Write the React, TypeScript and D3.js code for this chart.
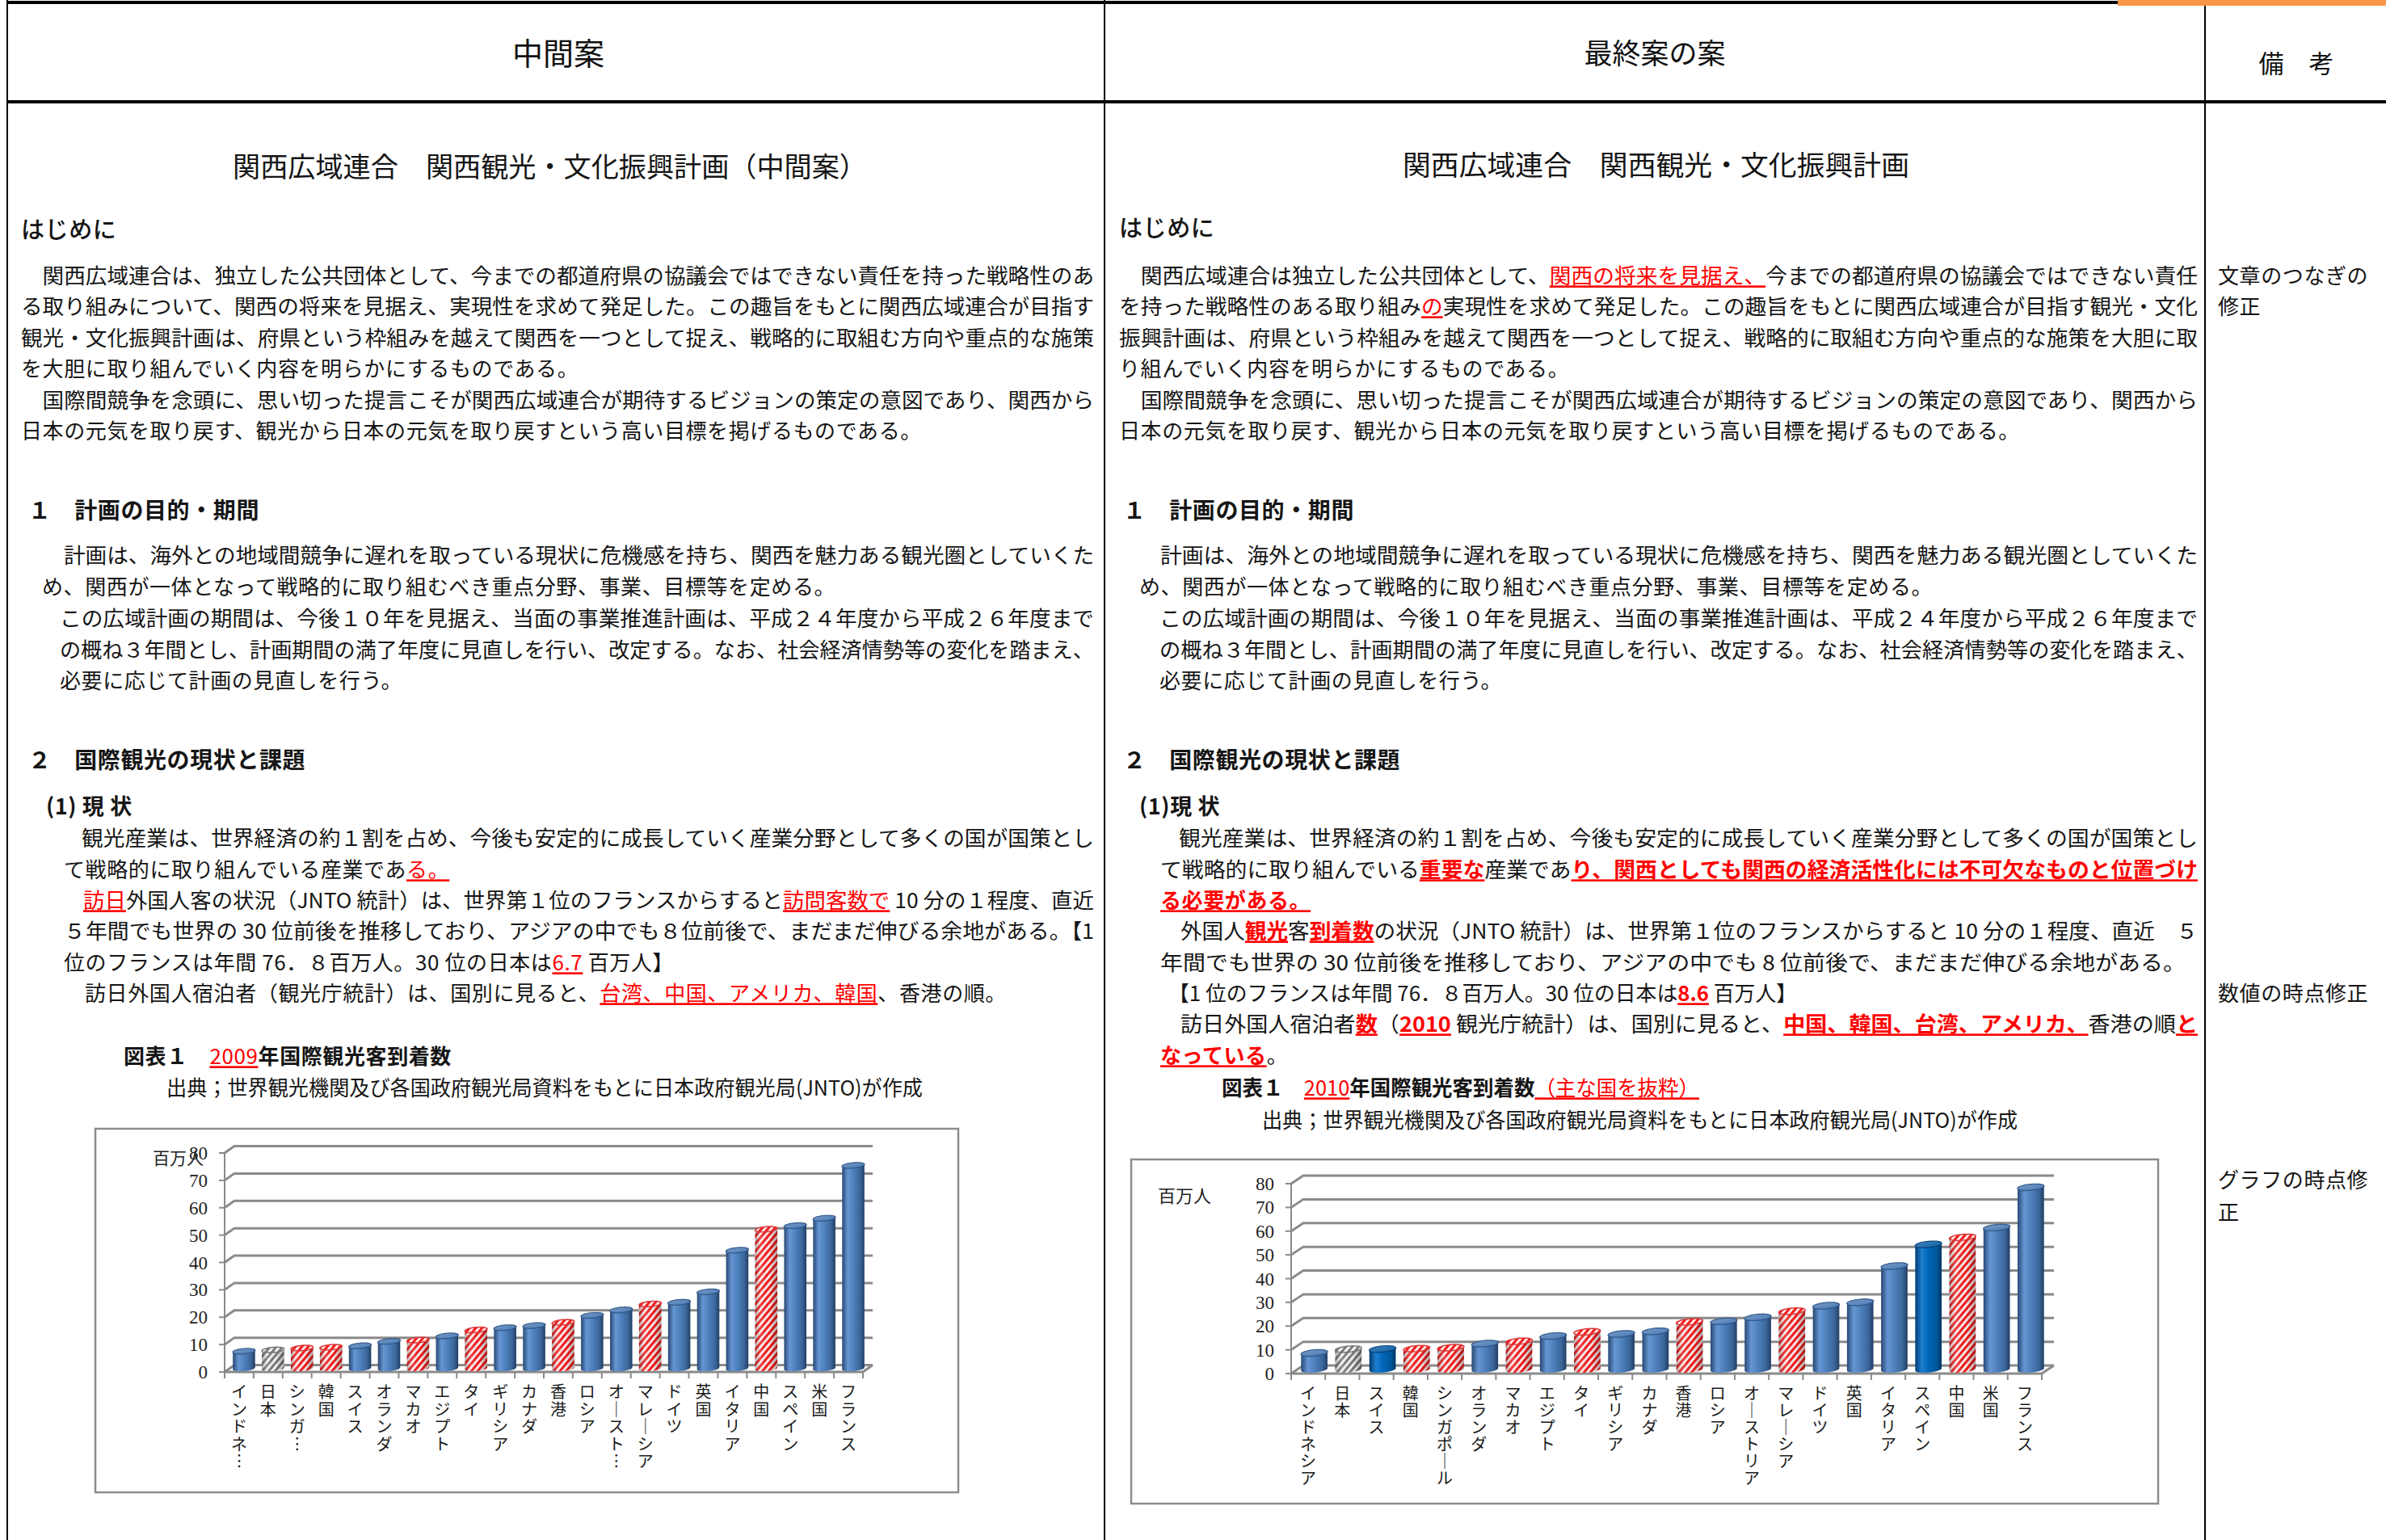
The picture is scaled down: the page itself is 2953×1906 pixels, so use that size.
import * as d3 from "d3";

const W = 2953;
const H = 1906;

// chart data (百万人)
const cats2009 = ["インドネ…", "日本", "シンガ…", "韓国", "スイス", "オランダ", "マカオ", "エジプト", "タイ", "ギリシア", "カナダ", "香港", "ロシア", "オースト…", "マレーシア", "ドイツ", "英国", "イタリア", "中国", "スペイン", "米国", "フランス"];
const vals2009 = [6.3, 6.8, 7.5, 7.8, 8.3, 9.9, 10.4, 11.9, 14.1, 14.9, 15.7, 16.9, 19.4, 21.4, 23.6, 24.2, 28.0, 43.2, 50.9, 52.2, 54.9, 74.2];
const kinds2009 = ["b", "g", "r", "r", "b", "b", "r", "b", "r", "b", "b", "r", "b", "b", "r", "b", "b", "b", "r", "b", "b", "b"];

const cats2010 = ["インドネシア", "日本", "スイス", "韓国", "シンガポール", "オランダ", "マカオ", "エジプト", "タイ", "ギリシア", "カナダ", "香港", "ロシア", "オーストリア", "マレーシア", "ドイツ", "英国", "イタリア", "スペイン", "中国", "米国", "フランス"];
const vals2010 = [7.0, 8.6, 8.6, 8.8, 9.2, 10.9, 11.9, 14.1, 15.9, 15.0, 16.1, 20.1, 20.3, 22.0, 24.6, 26.9, 28.3, 43.6, 52.7, 55.7, 59.8, 76.8];
const kinds2010 = ["b", "g", "d", "r", "r", "b", "r", "b", "r", "b", "b", "r", "b", "b", "r", "b", "b", "b", "d", "r", "b", "b"];

const yTicks = [0, 10, 20, 30, 40, 50, 60, 70, 80];

type Seg = [string, string?];
type Line = { x: number; y: number; end?: number; fs?: number; w?: number; segs: Seg[] };

const leftLines: Line[] = [
  { x: 288, end: 1073, y: 207, fs: 34, segs: [["関西広域連合　関西観光・文化振興計画（中間案）"]] },
  { x: 26, y: 285, fs: 29, w: 500, segs: [["はじめに"]] },
  { x: 26, end: 1354, y: 342, segs: [["　関西広域連合は、独立した公共団体として、今までの都道府県の協議会ではできない責任を持った戦略性のあ"]] },
  { x: 26, end: 1354, y: 380, segs: [["る取り組みについて、関西の将来を見据え、実現性を求めて発足した。この趣旨をもとに関西広域連合が目指す"]] },
  { x: 26, end: 1354, y: 419, segs: [["観光・文化振興計画は、府県という枠組みを越えて関西を一つとして捉え、戦略的に取組む方向や重点的な施策"]] },
  { x: 26, y: 457, segs: [["を大胆に取り組んでいく内容を明らかにするものである。"]] },
  { x: 26, end: 1354, y: 496, segs: [["　国際間競争を念頭に、思い切った提言こそが関西広域連合が期待するビジョンの策定の意図であり、関西から"]] },
  { x: 26, y: 534, segs: [["日本の元気を取り戻す、観光から日本の元気を取り戻すという高い目標を掲げるものである。"]] },
  { x: 35, y: 632, fs: 28, w: 700, segs: [["１　計画の目的・期間"]] },
  { x: 79, end: 1354, y: 688, segs: [["計画は、海外との地域間競争に遅れを取っている現状に危機感を持ち、関西を魅力ある観光圏としていくた"]] },
  { x: 52, y: 727, segs: [["め、関西が一体となって戦略的に取り組むべき重点分野、事業、目標等を定める。"]] },
  { x: 74, end: 1354, y: 766, segs: [["この広域計画の期間は、今後１０年を見据え、当面の事業推進計画は、平成２４年度から平成２６年度まで"]] },
  { x: 74, end: 1354, y: 805, segs: [["の概ね３年間とし、計画期間の満了年度に見直しを行い、改定する。なお、社会経済情勢等の変化を踏まえ、"]] },
  { x: 74, y: 843, segs: [["必要に応じて計画の見直しを行う。"]] },
  { x: 35, y: 941, fs: 28, w: 700, segs: [["２　国際観光の現状と課題"]] },
  { x: 57, y: 998, fs: 27, w: 700, segs: [["(1) 現 状"]] },
  { x: 101, end: 1354, y: 1038, segs: [["観光産業は、世界経済の約１割を占め、今後も安定的に成長していく産業分野として多くの国が国策とし"]] },
  { x: 79, y: 1077, segs: [["て戦略的に取り組んでいる産業であ"], ["る。", "r"]] },
  { x: 103, end: 1354, y: 1115, segs: [["訪日", "r"], ["外国人客の状況（JNTO 統計）は、世界第１位のフランスからすると"], ["訪問客数で", "r"], [" 10 分の１程度、直近"]] },
  { x: 79, end: 1354, y: 1153, segs: [["５年間でも世界の 30 位前後を推移しており、アジアの中でも８位前後で、まだまだ伸びる余地がある。【1"]] },
  { x: 79, y: 1192, segs: [["位のフランスは年間 76．８百万人。30 位の日本は"], ["6.7", "r"], [" 百万人】"]] },
  { x: 105, y: 1230, segs: [["訪日外国人宿泊者（観光庁統計）は、国別に見ると、"], ["台湾、中国、アメリカ、韓国", "r"], ["、香港の順。"]] },
  { x: 153, y: 1308, w: 700, segs: [["図表１　"], ["2009", "r"], ["年国際観光客到着数"]] },
  { x: 206, end: 1142, y: 1347, segs: [["出典；世界観光機関及び各国政府観光局資料をもとに日本政府観光局(JNTO)が作成"]] },
];

const rightLines: Line[] = [
  { x: 1736, end: 2363, y: 205, fs: 34, segs: [["関西広域連合　関西観光・文化振興計画"]] },
  { x: 1385, y: 283, fs: 29, w: 500, segs: [["はじめに"]] },
  { x: 1385, end: 2720, y: 342, segs: [["　関西広域連合は独立した公共団体として、"], ["関西の将来を見据え、", "r"], ["今までの都道府県の協議会ではできない責任"]] },
  { x: 1385, end: 2720, y: 380, segs: [["を持った戦略性のある取り組み"], ["の", "r"], ["実現性を求めて発足した。この趣旨をもとに関西広域連合が目指す観光・文化"]] },
  { x: 1385, end: 2720, y: 419, segs: [["振興計画は、府県という枠組みを越えて関西を一つとして捉え、戦略的に取組む方向や重点的な施策を大胆に取"]] },
  { x: 1385, y: 457, segs: [["り組んでいく内容を明らかにするものである。"]] },
  { x: 1385, end: 2720, y: 496, segs: [["　国際間競争を念頭に、思い切った提言こそが関西広域連合が期待するビジョンの策定の意図であり、関西から"]] },
  { x: 1385, y: 534, segs: [["日本の元気を取り戻す、観光から日本の元気を取り戻すという高い目標を掲げるものである。"]] },
  { x: 1390, y: 632, fs: 28, w: 700, segs: [["１　計画の目的・期間"]] },
  { x: 1436, end: 2720, y: 688, segs: [["計画は、海外との地域間競争に遅れを取っている現状に危機感を持ち、関西を魅力ある観光圏としていくた"]] },
  { x: 1410, y: 727, segs: [["め、関西が一体となって戦略的に取り組むべき重点分野、事業、目標等を定める。"]] },
  { x: 1435, end: 2720, y: 766, segs: [["この広域計画の期間は、今後１０年を見据え、当面の事業推進計画は、平成２４年度から平成２６年度まで"]] },
  { x: 1435, end: 2720, y: 805, segs: [["の概ね３年間とし、計画期間の満了年度に見直しを行い、改定する。なお、社会経済情勢等の変化を踏まえ、"]] },
  { x: 1435, y: 843, segs: [["必要に応じて計画の見直しを行う。"]] },
  { x: 1390, y: 941, fs: 28, w: 700, segs: [["２　国際観光の現状と課題"]] },
  { x: 1410, y: 998, fs: 27, w: 700, segs: [["(1)現 状"]] },
  { x: 1459, end: 2720, y: 1038, segs: [["観光産業は、世界経済の約１割を占め、今後も安定的に成長していく産業分野として多くの国が国策とし"]] },
  { x: 1436, end: 2720, y: 1077, segs: [["て戦略的に取り組んでいる"], ["重要な", "R"], ["産業であ"], ["り、関西としても関西の経済活性化には不可欠なものと位置づけ", "R"]] },
  { x: 1436, y: 1115, segs: [["る必要がある。", "R"]] },
  { x: 1461, end: 2720, y: 1153, segs: [["外国人"], ["観光", "R"], ["客"], ["到着数", "R"], ["の状況（JNTO 統計）は、世界第１位のフランスからすると 10 分の１程度、直近　５"]] },
  { x: 1436, end: 2705, y: 1192, segs: [["年間でも世界の 30 位前後を推移しており、アジアの中でも 8 位前後で、まだまだ伸びる余地がある。"]] },
  { x: 1446, end: 2224, y: 1230, segs: [["【1 位のフランスは年間 76．８百万人。30 位の日本は"], ["8.6", "R"], [" 百万人】"]] },
  { x: 1461, end: 2720, y: 1268, segs: [["訪日外国人宿泊者"], ["数", "R"], ["（"], ["2010", "R"], [" 観光庁統計）は、国別に見ると、"], ["中国、韓国、台湾、アメリカ、", "R"], ["香港の順"], ["と", "R"]] },
  { x: 1436, y: 1307, segs: [["なっている", "R"], ["。"]] },
  { x: 1512, end: 2103, y: 1347, w: 700, segs: [["図表１　"], ["2010", "r"], ["年国際観光客到着数"], ["（主な国を抜粋）", "r"]] },
  { x: 1562, end: 2497, y: 1387, segs: [["出典；世界観光機関及び各国政府観光局資料をもとに日本政府観光局(JNTO)が作成"]] },
];

const remarks: Line[] = [
  { x: 2745, y: 342, segs: [["文章のつなぎの"]] },
  { x: 2745, y: 380, segs: [["修正"]] },
  { x: 2745, y: 1230, segs: [["数値の時点修正"]] },
  { x: 2745, y: 1461, segs: [["グラフの時点修"]] },
  { x: 2745, y: 1501, segs: [["正"]] },
];

function TextLine({ l }: { l: Line }) {
  const fs = l.fs ?? 26;
  return (
    <text
      x={l.x}
      y={l.y + fs * 0.36}
      fontSize={fs}
      fontWeight={l.w ?? 400}
      fill="#151515"
      textLength={l.end ? l.end - l.x : undefined}
      lengthAdjust={l.end ? "spacingAndGlyphs" : undefined}
      letterSpacing={l.end ? undefined : 0.6}
      style={{ whiteSpace: "pre" }}
    >
      {l.segs.map(([t, s], i) => (
        <tspan
          key={i}
          fill={s ? "#ff0000" : undefined}
          fontWeight={s === "R" ? 700 : s === "r" ? 400 : undefined}
          textDecoration={s ? "underline" : undefined}
        >
          {t}
        </tspan>
      ))}
    </text>
  );
}

type ChartProps = {
  id: string;
  cats: string[];
  vals: number[];
  kinds: string[];
  box: [number, number, number, number];
  x0: number;
  x1: number;
  yBot: number;
  yTop: number;
  dx: number;
  dy: number;
  unit: [number, number, number];
  labelY: number;
  labelStep: number;
};

const bodyFill: Record<string, string> = { b: "gradB", d: "gradD", r: "hatchR", g: "hatchG" };
const topFill: Record<string, string> = { b: "#4a7ab6", d: "#0a5fa6", r: "url(#hatchR)", g: "url(#hatchG)" };
const topStroke: Record<string, string> = { b: "#2d5689", d: "#003f7a", r: "#d93a3a", g: "#777" };

function Chart3D(p: ChartProps) {
  const x = d3.scaleBand<string>().domain(p.cats).range([p.x0, p.x1]);
  const y = d3.scaleLinear().domain([0, 80]).range([p.yBot, p.yTop]);
  const bw = x.bandwidth();
  const r = bw * 0.36;
  const ex = p.dx * 0.4;
  const ey = p.dy * 0.4;
  const ell = (cx: number, cy: number): [number, number][] =>
    d3.range(48).map((k) => {
      const t = (k / 48) * Math.PI * 2;
      return [cx + r * Math.cos(t) + ex * Math.sin(t), cy + ey * Math.sin(t)];
    });
  const path = (pts: [number, number][]) => "M" + pts.map((q) => q.join(",")).join("L") + "Z";
  const [bx, by, bwid, bh] = p.box;
  const g0 = y(0);
  const rx = p.x1;
  const grid = "#8a8a8a";

  return (
    <g>
      <rect x={bx} y={by} width={bwid} height={bh} fill="#fff" stroke="#8c8c8c" strokeWidth={2.5} />
      {/* gridlines and 3D wall */}
      {yTicks.map((v) => (
        <g key={v}>
          <path
            d={`M${p.x0},${y(v)}L${p.x0 + p.dx},${y(v) + p.dy}L${rx + p.dx},${y(v) + p.dy}`}
            fill="none"
            stroke={grid}
            strokeWidth={3}
          />
          <line x1={p.x0 - 7} x2={p.x0} y1={y(v)} y2={y(v)} stroke={grid} strokeWidth={2} />
          <text
            x={p.x0 - 21}
            y={y(v) + 8}
            textAnchor="end"
            fontFamily="'Liberation Serif', serif"
            fontSize={23}
            fill="#222"
          >
            {v}
          </text>
        </g>
      ))}
      <path
        d={`M${p.x0},${g0}L${rx},${g0}L${rx + p.dx},${g0 + p.dy}`}
        fill="none"
        stroke={grid}
        strokeWidth={3}
      />
      <line x1={p.x0} x2={p.x0} y1={g0} y2={y(80)} stroke={grid} strokeWidth={2} />
      {d3.range(p.cats.length + 1).map((i) => (
        <line key={i} x1={p.x0 + i * bw} x2={p.x0 + i * bw} y1={g0} y2={g0 + 8} stroke={grid} strokeWidth={2} />
      ))}
      <text x={p.unit[0]} y={p.unit[1] + p.unit[2] * 0.36} fontSize={p.unit[2]} fill="#222">
        百万人
      </text>
      {/* cylinders */}
      {p.cats.map((c, i) => {
        const cx = (x(c) as number) + bw / 2 + p.dx * 0.5;
        const yb = g0 + p.dy * 0.5;
        const yt = y(p.vals[i]) + p.dy * 0.5;
        const hull = d3.polygonHull([...ell(cx, yb), ...ell(cx, yt)]) as [number, number][];
        const k = p.kinds[i];
        const hatched = k === "r" || k === "g";
        return (
          <g key={c}>
            <path d={path(hull)} fill={`url(#${bodyFill[k]})`} />
            {hatched && <path d={path(hull)} fill="url(#shade)" />}
            <path d={path(ell(cx, yt))} fill={topFill[k]} stroke={topStroke[k]} strokeWidth={1.5} />
            {!hatched && <path d={path(ell(cx, yt))} fill="url(#topShine)" />}
          </g>
        );
      })}
      {/* vertical category labels, one character per row */}
      {p.cats.map((c) => (
        <g key={c}>
          {Array.from(c).map((ch, j) => (
            <text
              key={j}
              x={(x(c) as number) + bw / 2}
              y={p.labelY + j * p.labelStep + 7}
              textAnchor="middle"
              fontSize={20}
              fill="#1a1a1a"
            >
              {ch === "ー" ? "｜" : ch === "…" ? "︙" : ch}
            </text>
          ))}
        </g>
      ))}
    </g>
  );
}

export default function App() {
  return (
    <svg
      width={W}
      height={H}
      viewBox={`0 0 ${W} ${H}`}
      style={{ position: "absolute", left: 0, top: 0, display: "block", background: "#fff" }}
      fontFamily="'Noto Sans CJK JP', sans-serif"
    >
      <defs>
        <linearGradient id="gradB" x1="0" x2="1" y1="0" y2="0">
          <stop offset="0" stopColor="#284873" />
          <stop offset="0.25" stopColor="#6596d3" />
          <stop offset="0.5" stopColor="#4f81bd" />
          <stop offset="0.82" stopColor="#3a6599" />
          <stop offset="1" stopColor="#213d63" />
        </linearGradient>
        <linearGradient id="gradD" x1="0" x2="1" y1="0" y2="0">
          <stop offset="0" stopColor="#003a70" />
          <stop offset="0.25" stopColor="#1e7fd0" />
          <stop offset="0.5" stopColor="#0067b8" />
          <stop offset="0.82" stopColor="#00569a" />
          <stop offset="1" stopColor="#003564" />
        </linearGradient>
        <linearGradient id="shade" x1="0" x2="1" y1="0" y2="0">
          <stop offset="0" stopColor="#000" stopOpacity="0.3" />
          <stop offset="0.28" stopColor="#fff" stopOpacity="0.15" />
          <stop offset="0.6" stopColor="#000" stopOpacity="0" />
          <stop offset="1" stopColor="#000" stopOpacity="0.3" />
        </linearGradient>
        <linearGradient id="topShine" x1="0" x2="1" y1="0" y2="1">
          <stop offset="0" stopColor="#fff" stopOpacity="0.25" />
          <stop offset="1" stopColor="#fff" stopOpacity="0" />
        </linearGradient>
        <pattern id="hatchR" width="6" height="6" patternUnits="userSpaceOnUse" patternTransform="rotate(40)">
          <rect width="6" height="6" fill="#fff4f4" />
          <rect width="3.2" height="6" fill="#f21d1d" />
        </pattern>
        <pattern id="hatchG" width="6" height="6" patternUnits="userSpaceOnUse" patternTransform="rotate(40)">
          <rect width="6" height="6" fill="#f4f4f4" />
          <rect width="3" height="6" fill="#7a7a7a" />
        </pattern>
      </defs>
      <rect width={W} height={H} fill="#fff" />

      {/* table frame */}
      <line x1={9} y1={3} x2={2621} y2={3} stroke="#000" strokeWidth={4} />
      <rect x={2621} y={0} width={W - 2621} height={7} fill="#f79646" />
      <line x1={9} y1={0} x2={9} y2={H} stroke="#000" strokeWidth={2} />
      <line x1={1367} y1={0} x2={1367} y2={H} stroke="#000" strokeWidth={2} />
      <line x1={2729} y1={7} x2={2729} y2={H} stroke="#000" strokeWidth={2} />
      <line x1={9} y1={126} x2={W} y2={126} stroke="#000" strokeWidth={4} />

      <text x={691} y={66 + 14} fontSize={38} textAnchor="middle" fill="#111">中間案</text>
      <text x={2048} y={66 + 13} fontSize={35} textAnchor="middle" fill="#111">最終案の案</text>
      <text x={2842} y={79 + 11} fontSize={31} textAnchor="middle" fill="#111">備　考</text>

      {leftLines.map((l, i) => <TextLine key={"l" + i} l={l} />)}
      {rightLines.map((l, i) => <TextLine key={"r" + i} l={l} />)}
      {remarks.map((l, i) => <TextLine key={"m" + i} l={{ ...l, fs: 26 }} />)}

      <Chart3D
        id="c2009"
        cats={cats2009}
        vals={vals2009}
        kinds={kinds2009}
        box={[118, 1397, 1068, 450]}
        x0={278}
        x1={1068}
        yBot={1698}
        yTop={1427}
        dx={12}
        dy={-8.5}
        unit={[189, 1433, 21]}
        labelY={1723}
        labelStep={21.5}
      />
      <Chart3D
        id="c2010"
        cats={cats2010}
        vals={vals2010}
        kinds={kinds2010}
        box={[1400, 1435, 1271, 426]}
        x0={1598}
        x1={2527}
        yBot={1700}
        yTop={1465}
        dx={15}
        dy={-10}
        unit={[1433, 1480, 22]}
        labelY={1725}
        labelStep={21}
      />
    </svg>
  );
}
